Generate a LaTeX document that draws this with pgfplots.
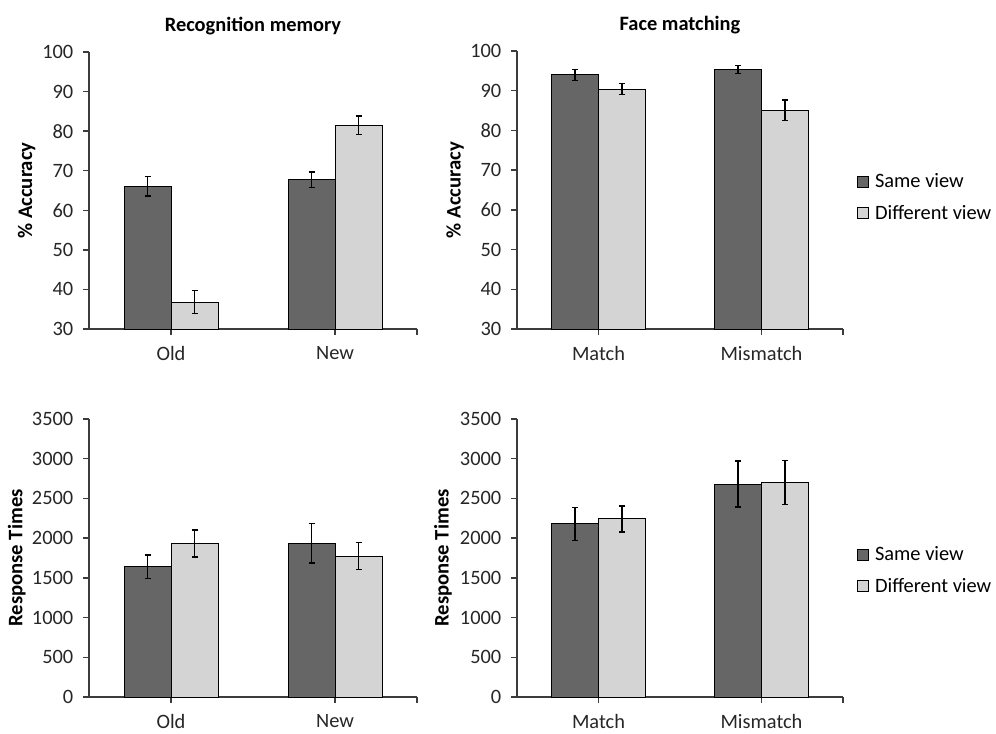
\documentclass[border=0pt]{standalone}
\usepackage{fontspec}
\setmainfont{Carlito}
\usepackage{pgfplots}
\pgfplotsset{compat=1.18}
\newlength\px
\setlength\px{0.75pt}
\definecolor{darkbar}{RGB}{102,102,102}
\definecolor{lightbar}{RGB}{212,212,212}
\definecolor{axisgray}{RGB}{60,60,60}
\pgfplotsset{
  mybar/.style={
    scale only axis,
    ybar=0pt, bar width=47\px,
    xmin=-0.5, xmax=1.5,
    axis x line*=bottom, axis y line*=left,
    axis line style={axisgray, line width=1.3\px, -},
    tick style={axisgray, line width=1.3\px},
    tick align=outside,
    major tick length=6\px,
    xtick={0,1,1.5},
    /pgf/number format/assume math mode=true,
    /pgf/number format/1000 sep={},
    ticklabel style={font=\fontsize{15.3}{18}\selectfont, text=black!85},
    yticklabel style={xshift=-5\px},
    xticklabel style={inner sep=0pt, text depth=0pt, yshift=-11\px},
    ylabel style={font=\bfseries\fontsize{15.5}{18}\selectfont, anchor=center},
    title style={font=\bfseries\fontsize{15.3}{18}\selectfont, at={(axis description cs:0.5,1)}, anchor=center, yshift=18\px},
    error bars/y dir=both, error bars/y explicit,
    error bars/error bar style={black, line width=1.6\px},
    error bars/error mark options={rotate=90, mark size=3\px, line width=1.4\px, black},
    legend style={draw=none, fill=none, font=\fontsize{15.3}{18}\selectfont, legend cell align=left, row sep=11\px,
      nodes={inner sep=2\px}},
    legend image code/.code={\draw[#1, line width=1\px] (0pt,-5.5\px) rectangle (11\px,5.5\px); \path (15\px,0pt);},
  },
  darkb/.style={fill=darkbar, draw=black, line width=1\px},
  lightb/.style={fill=lightbar, draw=black, line width=1\px},
}
\begin{document}
\begin{tikzpicture}
\path[use as bounding box] (0,0) rectangle (996\px,733\px);
% Top left
\begin{axis}[mybar, at={(89\px,404\px)}, anchor=south west, width=328\px, height=277\px,
  ymin=30, ymax=100, ytick={30,40,...,100},
  xticklabels={Old,New,{}},
  title={Recognition memory},
  ylabel={\% Accuracy}, ylabel style={at={(axis description cs:-0.19,0.5)}}]
\addplot[darkb] coordinates {(0,66.1) +- (0,2.5) (1,67.7) +- (0,2.0)};
\addplot[lightb] coordinates {(0,36.8) +- (0,2.9) (1,81.5) +- (0,2.3)};
\end{axis}
% Top right
\begin{axis}[mybar, at={(517\px,404\px)}, anchor=south west, width=326\px, height=278\px,
  ymin=30, ymax=100, ytick={30,40,...,100},
  xticklabels={Match,Mismatch,{}},
  title={Face matching},
  ylabel={\% Accuracy}, ylabel style={at={(axis description cs:-0.19,0.5)}},
  legend style={at={(axis description cs:1.03,0.473)}, anchor=west}]
\addplot[darkb] coordinates {(0,94.0) +- (0,1.4) (1,95.4) +- (0,1.0)};
\addlegendentry{Same view}
\addplot[lightb] coordinates {(0,90.4) +- (0,1.4) (1,85.1) +- (0,2.6)};
\addlegendentry{Different view}
\end{axis}
% Bottom left
\begin{axis}[mybar, at={(89\px,36\px)}, anchor=south west, width=328\px, height=278\px,
  ymin=0, ymax=3500, ytick={0,500,...,3500},
  xticklabels={Old,New,{}},
  ylabel={Response Times}, ylabel style={at={(axis description cs:-0.22,0.5)}}]
\addplot[darkb] coordinates {(0,1640) +- (0,150) (1,1935) +- (0,250)};
\addplot[lightb] coordinates {(0,1935) +- (0,170) (1,1775) +- (0,170)};
\end{axis}
% Bottom right
\begin{axis}[mybar, at={(517\px,36\px)}, anchor=south west, width=326\px, height=278\px,
  ymin=0, ymax=3500, ytick={0,500,...,3500},
  xticklabels={Match,Mismatch,{}},
  ylabel={Response Times}, ylabel style={at={(axis description cs:-0.227,0.5)}},
  legend style={at={(axis description cs:1.03,0.455)}, anchor=west}]
\addplot[darkb] coordinates {(0,2179) +- (0,205) (1,2680) +- (0,290)};
\addlegendentry{Same view}
\addplot[lightb] coordinates {(0,2242) +- (0,165) (1,2700) +- (0,275)};
\addlegendentry{Different view}
\end{axis}
\end{tikzpicture}
\end{document}
